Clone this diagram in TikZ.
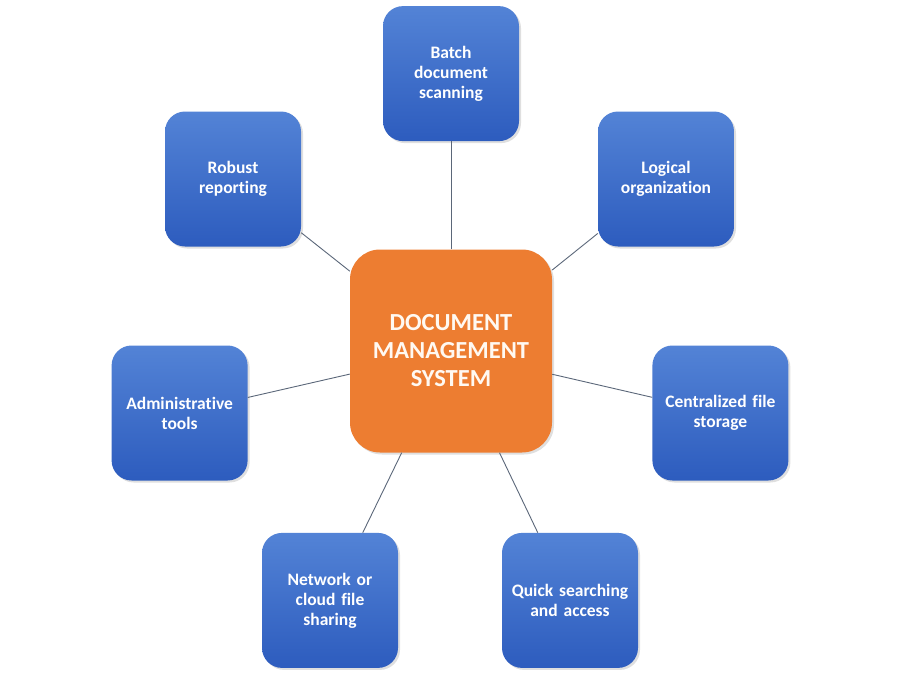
\documentclass[tikz,border=0pt]{standalone}
\usepackage{fontspec}
\setmainfont{Carlito}[Ligatures=NoCommon, WordSpace=0.85]
\usetikzlibrary{positioning,shadows}
\definecolor{boxtop}{HTML}{5383D6}
\definecolor{boxbot}{HTML}{2D5CBE}
\definecolor{dmsorange}{HTML}{ED7D31}
\definecolor{linkgray}{HTML}{5B6779}
\begin{document}
\begin{tikzpicture}[
    x=1pt, y=1pt,
    box/.style={rectangle, rounded corners=20pt, align=center, text width=130pt,
      minimum width=136pt, minimum height=135pt, inner sep=0pt,
      top color=boxtop, bottom color=boxbot, text=white,
      font=\fontsize{17.5}{20}\selectfont\bfseries,
      drop shadow={opacity=0.25, shadow xshift=2pt, shadow yshift=-2pt}},
    bigbox/.style={rectangle, rounded corners=30pt, align=center, text width=196pt,
      minimum width=202pt, minimum height=203pt, inner sep=0pt,
      fill=dmsorange, text=white!95!orange,
      font=\fontsize{24.5}{28}\selectfont\bfseries,
      drop shadow={opacity=0.25, shadow xshift=2pt, shadow yshift=-2pt}},
    link/.style={draw=linkgray, line width=0.9pt}
  ]
    \useasboundingbox (0,0) rectangle (900,-675);

    \node[bigbox] (dms) at (451,-351) {DOCUMENT\\MANAGEMENT\\SYSTEM};

    \node[box, above=108pt of dms] (batch) {Batch\\document\\scanning};
    \node[box] (report) at (233,-179) {Robust\\reporting};
    \node[box] (logic) at (666,-179) {Logical\\organization};
    \node[box, left=102pt of dms, yshift=-62pt] (admin) {Administrative\\tools};
    \node[box, right=100pt of dms, yshift=-62pt] (store) {Centralized file\\storage};
    \node[box, below=80pt of dms, xshift=-121pt] (share) {Network or\\cloud file\\sharing};
    \node[box, below=80pt of dms, xshift=119pt] (search) {Quick searching\\and access};

    % spokes
    \foreach \n in {batch,report,logic,admin,store,share,search}
      \draw[link] (dms) -- (\n);

  \end{tikzpicture}
\end{document}
